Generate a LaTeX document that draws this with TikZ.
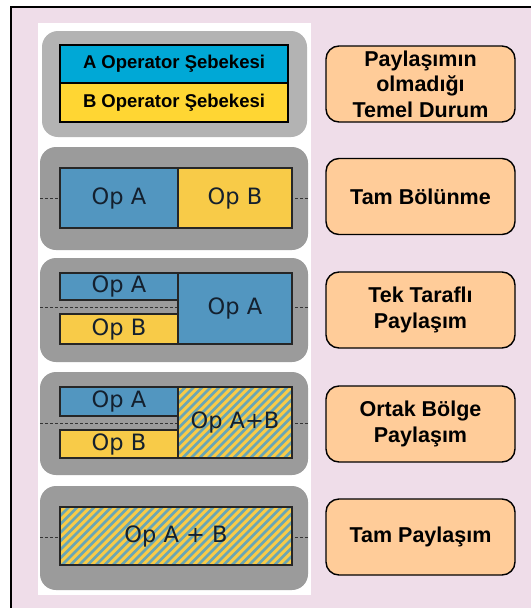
\documentclass[tikz,border=0pt]{standalone}
\usepackage{fontspec}
\setmainfont{Liberation Sans}
\newfontfamily\opfont{DejaVu Sans}
\usetikzlibrary{positioning}

\definecolor{bgpink}{HTML}{EFDDE9}
\definecolor{panelgray}{HTML}{B3B3B3}
\definecolor{boxgray}{HTML}{9B9B9B}
\definecolor{netblue}{HTML}{00A8D6}
\definecolor{netyellow}{HTML}{FFD633}
\definecolor{opblue}{HTML}{5296C0}
\definecolor{opyellow}{HTML}{F8CB48}
\definecolor{stripe}{HTML}{6AA6B4}
\definecolor{labelorange}{HTML}{FFCC99}
\definecolor{optext}{HTML}{14202E}

\begin{document}
\begin{tikzpicture}[x=1pt, y=-1pt,
  panel/.style={fill=boxgray, rounded corners=16pt, inner sep=0pt,
    minimum width=268pt, minimum height=104pt},
  net/.style={draw=black, line width=1.3pt, inner sep=0pt, minimum width=228pt,
    font=\fontsize{18.5}{20}\selectfont\bfseries},
  op/.style={draw=black!85, line width=1.2pt, inner sep=0pt, text=optext,
    font=\opfont\fontsize{22.5}{24}\selectfont},
  shared/.style={op, fill=opyellow, path picture={
    \foreach \k in {-20,...,20}
      \draw[stripe, line width=2.8pt]
        ([xshift=\k*8.5pt]path picture bounding box.center) ++(-60pt,-60pt) -- ++(120pt,120pt);
    }},
  caption/.style={draw=black, line width=1.4pt, fill=labelorange, rounded corners=13pt,
    minimum width=189pt, minimum height=76pt, align=center,
    font=\fontsize{21.5}{25.5}\selectfont\bfseries},
  split/.style={black!80, line width=1pt, dash pattern=on 3pt off 2pt}
]
  \useasboundingbox (0,0) rectangle (531,608);
  \fill[white] (0,0) rectangle (531,608);
  \fill[bgpink] (11,7) rectangle (531,608);
  \draw[line width=1.5pt] (11,608) -- (11,7) -- (531,7);
  \fill[white] (38,23) rectangle (311,595);

  % gray panels
  \node[panel, fill=panelgray, minimum width=265pt, minimum height=106pt] (g1) at (174.5,84) {};
  \node[panel, minimum height=103pt] (g2) at (174,198.5) {};
  \node[panel] (g3) at (174,310) {};
  \node[panel, minimum height=103pt] (g4) at (174,423.5) {};
  \node[panel] (g5) at (174,538) {};

  % both networks
  \node[net, fill=netblue, minimum height=38pt] (neta) at (174,64) {A Operator Şebekesi};
  \node[net, fill=netyellow, minimum height=39pt] (netb) at (174,102.5) {B Operator Şebekesi};

  % full split
  \coordinate (m2l) at (40,198);
  \coordinate (m2r) at (308,198);
  \draw[split] (m2l) -- (m2r);
  \node[op, fill=opblue, minimum width=118pt, minimum height=60pt] (s2a) at (119,198) {Op A};
  \node[op, fill=opyellow, minimum width=114pt, minimum height=60pt] (s2b) at (235,198) {Op B};

  % one-sided sharing
  \coordinate (m3l) at (40,307);
  \coordinate (m3r) at (308,307);
  \draw[split] (m3l) -- (m3r);
  \node[op, fill=opblue, minimum width=118pt, minimum height=27pt] (s3a) at (119,286.5) {Op A};
  \node[op, fill=opyellow, minimum width=118pt, minimum height=30pt] (s3b) at (119,329) {Op B};
  \node[op, fill=opblue, minimum width=114pt, minimum height=71pt] (s3c) at (235,308.5) {Op A};

  % common area sharing
  \coordinate (m4l) at (40,423);
  \coordinate (m4r) at (308,423);
  \draw[split] (m4l) -- (m4r);
  \node[op, fill=opblue, minimum width=118pt, minimum height=29pt] (s4a) at (119,401.5) {Op A};
  \node[op, fill=opyellow, minimum width=118pt, minimum height=28pt] (s4b) at (119,444) {Op B};
  \node[shared, minimum width=114pt, minimum height=71pt] (s4c) at (235,422.5) {Op A+B};

  % full sharing
  \coordinate (m5l) at (40,537);
  \coordinate (m5r) at (308,537);
  \draw[split] (m5l) -- (m5r);
  \node[shared, minimum width=232pt, minimum height=58pt] (s5) at (176,536) {Op A + B};

  % captions
  \node[caption] (c1) at (420.5,84) {Paylaşımın\\olmadığı\\Temel Durum};
  \node[caption] (c2) at (420.5,196.5) {Tam Bölünme};
  \node[caption] (c3) at (420.5,310) {Tek Taraflı\\Paylaşım};
  \node[caption] (c4) at (420.5,424) {Ortak Bölge\\Paylaşım};
  \node[caption] (c5) at (420.5,537) {Tam Paylaşım};
\end{tikzpicture}
\end{document}
